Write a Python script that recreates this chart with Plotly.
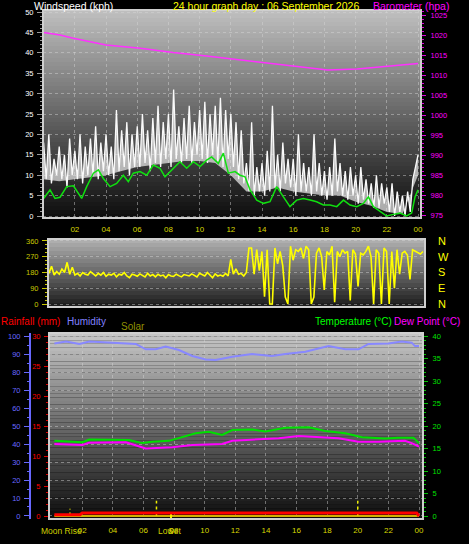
import plotly.graph_objects as go

W, H = 469, 544
FONT = "Liberation Sans"

# ---------------- data ----------------
hour_ticks = [2, 4, 6, 8, 10, 12, 14, 16, 18, 20, 22, 24]
hour_labels = ["02", "04", "06", "08", "10", "12", "14", "16", "18", "20", "22", "00"]

sample_step_h = 1 / 6  # 10-minute samples

gust_kph = [
    18, 9, 20, 8, 14, 10,
    17, 9, 15, 7, 19, 10,
    16, 9, 20, 8, 17, 10,
    19, 10, 22, 9, 18, 11,
    20, 10, 17, 9, 26, 11,
    21, 12, 23, 10, 20, 12,
    22, 12, 25, 13, 21, 11,
    24, 13, 27, 12, 23, 14,
    25, 12, 31, 14, 22, 13,
    24, 14, 27, 13, 23, 15,
    26, 14, 28, 13, 25, 15,
    27, 13, 29, 12, 26, 14,
    25, 12, 23, 9, 21, 8,
    13, 6, 23, 5, 12, 6,
    13, 5, 16, 6, 27, 7,
    15, 6, 18, 8, 14, 7,
    14, 5, 20, 6, 13, 6,
    12, 5, 20, 6, 13, 5,
    11, 4, 12, 5, 19, 6,
    13, 5, 11, 4, 12, 5,
    10, 3, 12, 4, 9, 3,
    8, 2, 10, 2, 8, 3,
    7, 1, 8, 0, 6, 1,
    5, 0, 6, 1, 9, 12,
    15,
]

# lower edge of the gust band, hourly
gust_floor_time_h = list(range(25))
gust_floor_kph = [9, 8.5, 9, 9.5, 10, 11, 12, 12.5, 13, 13.5, 13.5, 13, 10,
                  6, 6, 7, 6, 5.5, 5, 5, 3.5, 2.5, 1, 0.5, 10]

avg_time_h = [0.0, 0.41, 0.73, 1.05, 1.48, 1.91, 2.44, 2.76, 3.19, 3.51,
              3.83, 4.26, 4.68, 5.11, 5.43, 5.75, 6.18, 6.61, 7.03, 7.46,
              7.78, 8.21, 8.74, 9.17, 9.60, 10.03, 10.45, 10.77, 11.20, 11.52,
              11.84, 12.27, 12.59, 12.91, 13.23, 13.66, 14.09, 14.51, 14.94, 15.37,
              15.79, 16.22, 16.65, 17.08, 17.50, 17.93, 18.36, 18.79, 19.22, 19.64,
              20.07, 20.50, 20.82, 21.14, 21.56, 21.99, 22.42, 22.85, 23.27, 23.59,
              23.81, 24.0]
avg_kph = [4.3, 6.4, 4.3, 4.6, 7.2, 7.4, 4.3, 7.2, 10.5, 11.3,
           9.2, 7.2, 8.0, 10.0, 8.4, 10.5, 10.9, 10.0, 12.5, 11.7,
           9.6, 11.3, 13.3, 11.7, 13.3, 12.1, 13.7, 14.5, 12.9, 15.4,
           10.5, 10.9, 10.0, 9.6, 6.4, 3.9, 3.1, 3.5, 7.2, 4.7,
           2.3, 3.9, 4.3, 3.9, 3.5, 2.7, 2.7, 2.3, 3.9, 2.7,
           2.3, 3.1, 4.7, 2.3, 1.1, 0.0, 0.4, 0.7, 0.0, 0.7,
           4.7, 6.4]

baro_time_h = [0, 1.05, 1.9, 4.0, 6.2, 8.3, 10.45, 12.6, 14.7, 16.9, 18.2, 20.1, 22.2, 24]
baro_hpa = [1020.6, 1020.0, 1019.2, 1017.5, 1016.7, 1015.6, 1014.75, 1013.75,
            1012.75, 1011.8, 1011.25, 1011.5, 1012.3, 1012.9]

dir_deg = [
    175, 215, 165, 185, 170, 200,
    180, 238, 170, 210, 165, 175,
    160, 180, 170, 165, 185, 170,
    160, 175, 165, 180, 158, 170,
    165, 175, 155, 170, 165, 180,
    160, 150, 170, 165, 158, 172,
    165, 155, 175, 160, 168, 155,
    170, 160, 165, 150, 168, 160,
    158, 170, 162, 155, 168, 165,
    160, 172, 165, 155, 175, 168,
    160, 180, 165, 150, 172, 160,
    165, 158, 175, 160, 255, 170,
    200, 170, 175, 160, 180, 320,
    320, 170, 310, 190, 300, 42,
    310, 0, 0, 320, 230, 300,
    220, 40, 0, 330, 250, 310,
    300, 320, 260, 330, 310, 0,
    40, 290, 320, 270, 80, 300,
    280, 330, 10, 300, 270, 310,
    290, 300, 20, 310, 285, 100,
    290, 280, 300, 330, 270, 0,
    310, 290, 0, 320, 300, 0,
    300, 90, 310, 170, 290, 300,
    280, 140, 310, 300, 290, 285,
    300,
]
dir_ticks = [0, 90, 180, 270, 360]
compass_labels = ["N", "E", "S", "W", "N"]

hum_time_h = [0.18, 0.94, 1.81, 2.46, 3.98, 5.50, 6.15, 6.80, 7.45, 8.32,
              9.19, 10.06, 10.71, 11.80, 13.10, 14.40, 15.27, 16.57, 18.09, 19.18,
              20.05, 20.70, 22.00, 22.87, 23.52, 23.74, 24.0]
hum_pct = [95.9, 96.9, 95.6, 96.9, 96.3, 95.6, 92.6, 92.6, 94.1, 92.2,
           88.9, 87.0, 86.7, 88.5, 90.0, 88.9, 90.0, 91.3, 94.4, 92.6,
           92.6, 95.6, 95.9, 96.9, 96.3, 94.4, 94.4]

temp_time_h = [0.18, 2.02, 2.46, 5.06, 5.93, 6.58, 7.67, 8.54, 9.41, 10.27,
               11.14, 11.80, 13.10, 13.97, 15.27, 16.79, 17.88, 19.18, 20.27, 21.78,
               22.65, 23.63, 24.0]
temp_c = [16.7, 16.4, 17.0, 16.9, 16.2, 16.5, 16.7, 17.5, 18.4, 18.7,
          18.0, 19.1, 19.2, 18.8, 19.6, 19.7, 18.9, 18.4, 17.5, 17.2,
          17.4, 17.4, 16.2]

dew_time_h = [0.18, 2.02, 2.46, 4.85, 6.15, 7.89, 9.19, 10.49, 11.14, 11.80,
              13.53, 14.84, 16.14, 17.44, 18.74, 20.05, 21.35, 23.08, 23.52, 24.0]
dew_c = [16.0, 15.8, 16.3, 16.4, 15.0, 15.3, 15.8, 15.9, 16.0, 16.7,
         17.1, 17.3, 17.8, 17.5, 17.3, 16.5, 16.5, 16.7, 16.2, 15.4]

rain_time_h = [0.18, 1.85, 2.0, 23.85, 24.0]
rain_mm = [0.2, 0.2, 0.5, 0.5, 0.0]

solar_time_h = [0.18, 24.0]
solar_level = [0, 0]

event_time_h = [1.2, 6.85, 20.0]
event_top_pct = [4.0, 8.5, 8.5]
low_time_h = [7.8]
low_top_pct = [1.7]

# ---------------- geometry helpers ----------------
def dom_x(a, b):
    return [a / W, b / W]


def dom_y(top, bottom):
    return [1 - bottom / H, 1 - top / H]


def py(p):
    return 1 - p / H


def px(p):
    return p / W


fig = go.Figure()

# ---------- Panel 1: wind speed + barometer ----------
gust_time = [i * sample_step_h for i in range(len(gust_kph))]
fig.add_trace(go.Scatter(x=gust_floor_time_h, y=gust_floor_kph, mode="lines",
                         line=dict(color="rgba(0,0,0,0)", width=0), xaxis="x", yaxis="y"))
fig.add_trace(go.Scatter(x=gust_time, y=gust_kph, mode="lines", fill="tonexty",
                         fillcolor="rgba(238,238,238,0.7)",
                         line=dict(color="#fafafa", width=1.3), xaxis="x", yaxis="y"))
fig.add_trace(go.Scatter(x=avg_time_h, y=avg_kph, mode="lines",
                         line=dict(color="#10e010", width=1.5), xaxis="x", yaxis="y"))
fig.add_trace(go.Scatter(x=baro_time_h, y=baro_hpa, mode="lines",
                         line=dict(color="#ff30ff", width=1.5), xaxis="x", yaxis="y2"))

# ---------- Panel 2: wind direction ----------
dir_time = [i * sample_step_h for i in range(len(dir_deg))]
fig.add_trace(go.Scatter(x=dir_time, y=dir_deg, mode="lines",
                         line=dict(color="#ffff00", width=1.6), xaxis="x2", yaxis="y3"))
fig.add_trace(go.Scatter(x=[0, 24], y=[None, None], mode="lines",
                         xaxis="x2", yaxis="y4", showlegend=False))

# ---------- Panel 3: humidity, rain, temperature ----------
fig.add_trace(go.Scatter(x=solar_time_h, y=solar_level, mode="lines",
                         line=dict(color="#d0b000", width=2), xaxis="x3", yaxis="y5"))
fig.add_trace(go.Scatter(x=hum_time_h, y=hum_pct, mode="lines",
                         line=dict(color="#8888ff", width=2), xaxis="x3", yaxis="y5"))
ev_x, ev_y = [], []
for t, top in zip(event_time_h, event_top_pct):
    ev_x += [t, t, None]
    ev_y += [-3, top, None]
fig.add_trace(go.Scatter(x=ev_x, y=ev_y, mode="lines",
                         line=dict(color="#f0f000", width=1.5, dash="dot"), xaxis="x3", yaxis="y5"))
lw_x, lw_y = [], []
for t, top in zip(low_time_h, low_top_pct):
    lw_x += [t, t, None]
    lw_y += [-3, top, None]
fig.add_trace(go.Scatter(x=lw_x, y=lw_y, mode="lines",
                         line=dict(color="#f0f000", width=2), xaxis="x3", yaxis="y5"))
fig.add_trace(go.Scatter(x=rain_time_h, y=rain_mm, mode="lines",
                         line=dict(color="#ff0000", width=3), xaxis="x3", yaxis="y6"))
fig.add_trace(go.Scatter(x=dew_time_h, y=dew_c, mode="lines",
                         line=dict(color="#ff00ff", width=2), xaxis="x3", yaxis="y7"))
fig.add_trace(go.Scatter(x=temp_time_h, y=temp_c, mode="lines",
                         line=dict(color="#00e000", width=2), xaxis="x3", yaxis="y7"))

# ---------------- backgrounds (vertical gradients) ----------------
shapes = []


def gradient(xref, yref, top, bottom, n=52):
    for k in range(n):
        f = (k + 0.5) / n
        c = int(round(bottom + (top - bottom) * f))
        shapes.append(dict(type="rect", xref=xref, yref=yref, x0=0, x1=1,
                           y0=k / n, y1=(k + 1) / n,
                           fillcolor=f"rgb({c},{c},{c})", line=dict(width=0), layer="below"))


def frame(xref, yref):
    shapes.append(dict(type="rect", xref=xref, yref=yref, x0=0, x1=1, y0=0, y1=1,
                       line=dict(color="#cfcfcf", width=2), fillcolor="rgba(0,0,0,0)", layer="above"))


gradient("x domain", "y domain", 192, 12)
gradient("x2 domain", "y3 domain", 178, 26, 17)
gradient("x3 domain", "y5 domain", 200, 12)
frame("x domain", "y domain")
frame("x2 domain", "y3 domain")
frame("x3 domain", "y5 domain")

grid = dict(showgrid=True, gridcolor="rgba(215,215,215,0.45)", griddash="dot", gridwidth=1)
tick_font = dict(family=FONT, size=7.5)
xlab_font = dict(family=FONT, size=8, color="#d8d800")

# ---------------- annotations ----------------
ann = []


def text(s, x, y, color, size=11, xanchor="left"):
    ann.append(dict(text=s, x=px(x), y=py(y), xref="paper", yref="paper", showarrow=False,
                    xanchor=xanchor, yanchor="middle", borderpad=0,
                    font=dict(family=FONT, size=size, color=color)))


text("Windspeed (kph)", 33, 6, "#ffffff", 10.5)
text("24 hour graph day : 06 September 2026", 172, 6, "#ffff00", 10.5)
text("Barometer (hpa)", 372, 6, "#ff00ff", 10.5)
text("Rainfall (mm)", 0, 321, "#ff0000", 10)
text("Humidity", 66, 321, "#8080ff", 10)
text("Solar", 120, 326, "#909000", 10)
text("Temperature (°C)", 314, 321, "#00ff00", 10)
text("Dew Point (°C)", 393, 321, "#ff00ff", 10)
text("Moon Rise", 40, 531, "#d0d000", 8.5)
text("Low", 157, 531, "#d0d000", 8.5)
text("Set", 167, 531, "#d0d000", 8.5)

nomargin = dict(automargin=False)

fig.update_layout(
    width=W, height=H, margin=dict(l=0, r=0, t=0, b=0, autoexpand=False),
    paper_bgcolor="#000000", plot_bgcolor="rgba(0,0,0,0)",
    showlegend=False, shapes=shapes, annotations=ann, hovermode=False,
    xaxis=dict(domain=dom_x(43, 421), range=[-0.04, 24.19], anchor="y",
               tickvals=hour_ticks, ticktext=hour_labels, tickfont=xlab_font,
               ticks="", ticklabelstandoff=5, zeroline=False, showline=False, **grid, **nomargin),
    yaxis=dict(domain=dom_y(10, 218), range=[-0.49, 50.49], anchor="x",
               tickvals=list(range(0, 51, 5)), tickfont=dict(tick_font, color="#ffffff"),
               ticks="outside", ticklen=5, tickcolor="#9a9a9a",
               minor=dict(ticks="outside", ticklen=2, dtick=1, tickcolor="#9a9a9a", showgrid=False),
               ticklabelstandoff=2, zeroline=False, showline=False, **grid, **nomargin),
    yaxis2=dict(overlaying="y", side="right", anchor="x", range=[974.25, 1026.25],
                tickvals=list(range(975, 1026, 5)), tickfont=dict(tick_font, color="#ff00ff"),
                ticks="outside", ticklen=4, tickcolor="#e000e0",
                minor=dict(ticks="outside", ticklen=2, dtick=1, tickcolor="#e000e0"),
                ticklabelstandoff=3, showgrid=False, zeroline=False, showline=False, **nomargin),
    xaxis2=dict(domain=dom_x(48, 425), range=[-0.06, 24.13], anchor="y3",
                showticklabels=False, ticks="", showgrid=False, zeroline=False, showline=False,
                **nomargin),
    yaxis3=dict(domain=dom_y(239, 307), range=[-17, 371], anchor="x2",
                tickvals=dir_ticks, tickfont=dict(tick_font, color="#c8c800"),
                ticks="outside", ticklen=5, tickcolor="#c8c800",
                minor=dict(ticks="outside", ticklen=2, dtick=22.5, tickcolor="#c8c800", showgrid=False),
                ticklabelstandoff=2, zeroline=False, showline=False, **grid, **nomargin),
    yaxis4=dict(overlaying="y3", side="right", anchor="x2", range=[-17, 371],
                tickvals=dir_ticks, ticktext=compass_labels,
                tickfont=dict(family=FONT, size=11, color="#ffff00"),
                ticks="", ticklabelstandoff=12, showgrid=False, zeroline=False, showline=False,
                **nomargin),
    xaxis3=dict(domain=dom_x(49, 423), range=[-0.17, 24.26], anchor="y5",
                tickvals=hour_ticks, ticktext=hour_labels, tickfont=xlab_font,
                ticks="", ticklabelstandoff=5, zeroline=False, showline=False, **grid, **nomargin),
    yaxis5=dict(domain=dom_y(333, 519), range=[-1.67, 101.67], anchor="free", position=30 / W,
                tickvals=list(range(0, 101, 10)), tickfont=dict(tick_font, color="#6868ff"),
                ticks="outside", ticklen=5, tickcolor="#6868ff",
                minor=dict(ticks="outside", ticklen=2, dtick=5, tickcolor="#6868ff", showgrid=False),
                showline=True, linecolor="#6868ff", linewidth=2,
                ticklabelstandoff=2, zeroline=False, **grid, **nomargin),
    yaxis6=dict(overlaying="y5", side="left", anchor="x3", range=[-0.5, 30.5],
                tickvals=list(range(0, 31, 5)), tickfont=dict(tick_font, color="#ff0000"),
                ticks="outside", ticklen=4, tickcolor="#e00000",
                minor=dict(ticks="outside", ticklen=2, dtick=1, tickcolor="#e00000"),
                ticklabelstandoff=2, showgrid=False, zeroline=False, showline=False, **nomargin),
    yaxis7=dict(overlaying="y5", side="right", anchor="x3", range=[-0.667, 40.667],
                tickvals=list(range(0, 41, 5)), tickfont=dict(tick_font, color="#00e000"),
                ticks="outside", ticklen=4, tickcolor="#00c000",
                minor=dict(ticks="outside", ticklen=2, dtick=1, tickcolor="#00c000"),
                ticklabelstandoff=3, showgrid=False, zeroline=False, showline=False, **nomargin),
)

fig.write_html("out.html", config={"displayModeBar": False, "staticPlot": True},
               post_script="document.body.style.margin='0';document.body.style.background='#000';")
